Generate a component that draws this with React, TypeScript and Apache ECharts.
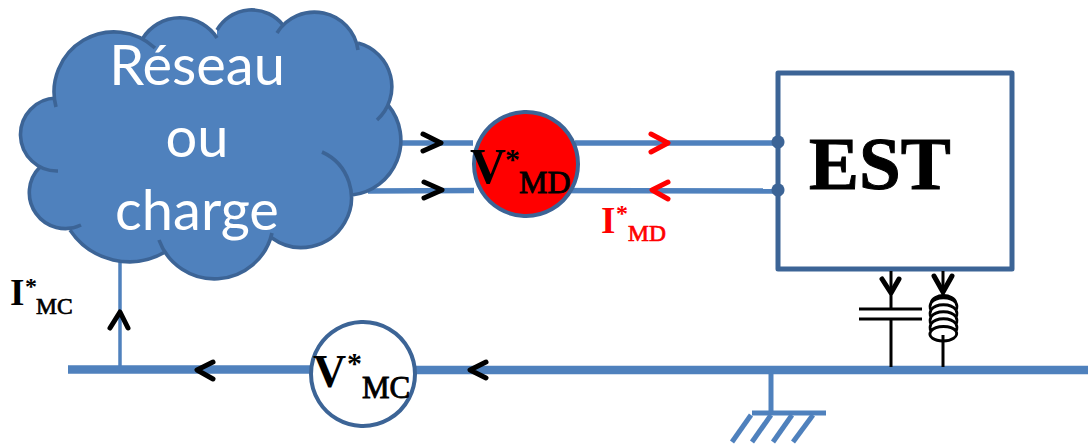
import React, { useEffect, useRef } from "react";
import * as echarts from "echarts";

const WIRE = "#4f81bd";
const EDGE = "#3c6496";
const RED = "#ff0000";
const BLACK = "#000000";
const SERIF = "'Liberation Serif', serif";

// cloud lobes: start x, start y, radius, large-arc flag, end x, end y
const cloudLobes = [
  [56, 107, 60, 0, 155, 48],
  [143, 38, 44, 0, 217, 38],
  [217, 30, 40, 0, 283, 25],
  [277, 33, 44, 0, 358, 50],
  [358, 43, 45, 0, 377, 120],
  [388, 105, 55, 0, 352, 195],
  [322, 152, 50, 1, 272, 238],
  [272, 233, 59, 0, 159, 240],
  [165, 252, 71, 0, 70, 230],
  [81, 225, 36, 0, 40, 167],
  [58, 171, 36.5, 0, 56, 98],
];
const lobeArc = (l: number[]) => `A ${l[2]} ${l[2]} 0 ${l[3]} 1 ${l[4]} ${l[5]}`;
const cloudFillPath =
  cloudLobes.map((l, i) => `${i ? "L" : "M"} ${l[0]} ${l[1]} ${lobeArc(l)}`).join(" ") + " Z";
const cloudLinePath = cloudLobes.map((l) => `M ${l[0]} ${l[1]} ${lobeArc(l)}`).join(" ");

const coilTurns = [303, 310, 317, 324];
const coilPath =
  "M 931 303 C 933 293 954 293 956 303 " +
  coilTurns.map((y) => `M 931 ${y} C 936 ${y - 7} 951 ${y - 7} 956 ${y} Q 958 ${y + 3.5} 956 ${y + 7} M 931 ${y} Q 929 ${y + 3.5} 931 ${y + 7}`).join(" ") +
  " M 931 331 C 927 337 935 341 943 341 C 951 341 959 337 956 331 C 951 325 936 325 931 331";

echarts.graphic.registerShape("cloudFill", echarts.graphic.extendPath(cloudFillPath, {}) as any);
echarts.graphic.registerShape("cloudLine", echarts.graphic.extendPath(cloudLinePath, {}) as any);
echarts.graphic.registerShape("coil", echarts.graphic.extendPath(coilPath, {}) as any);

// wires: x1, y1, x2, y2, width
const wires = [
  [400, 143, 473, 143, 5.5],
  [368, 191, 474, 190.5, 5.5],
  [575, 143, 778, 143, 5.5],
  [524, 190.5, 778, 191, 5.5],
  [120, 262, 120, 370, 3.5],
  [68, 369.5, 312, 369.5, 8.5],
  [415, 370, 1088, 370, 8.5],
  [771, 370, 771, 412, 5],
  [752, 413, 826, 413, 5],
  [751, 415, 732, 442, 5],
  [771, 415, 752, 442, 5],
  [792, 415, 773, 442, 5],
  [813, 415, 793, 442, 5],
];
// black component lines
const leads = [
  [891, 271, 891, 308, 3],
  [859, 309, 922, 309, 3],
  [859, 319, 922, 319, 3],
  [891, 319, 891, 367, 3],
  [943, 271, 943, 295, 3],
  [943, 335, 943, 367, 3],
];
const blackArrows = [
  [[423, 134], [441, 143], [423, 151]],
  [[424, 182], [442, 190], [424, 198]],
  [[110, 328], [120, 312], [128, 328]],
  [[213, 362], [197, 370], [213, 379]],
  [[486, 362], [470, 370], [486, 378]],
  [[882, 279], [891, 293], [899, 279]],
  [[934, 276], [943, 292], [952, 276]],
];
const redArrows = [
  [[651, 134], [668, 143], [651, 152]],
  [[668, 182], [652, 190], [668, 199]],
];
const cloudWords = [
  ["Réseau", 85],
  ["ou", 157],
  ["charge", 230],
] as const;
// text, x, baseline, size, colour, weight, outline
const mathLabels = [
  ["V", 470, 183, 50, BLACK, "bold", 0],
  ["*", 505, 169, 30, BLACK, "bold", 0],
  ["MD", 519, 193, 32, BLACK, "normal", 0.9],
  ["I", 601, 233, 37, RED, "bold", 0],
  ["*", 616, 221.5, 24, RED, "bold", 0],
  ["MD", 628, 241, 23.5, RED, "normal", 0.7],
  ["I", 10, 305, 37, BLACK, "bold", 0],
  ["*", 25, 294.5, 24, BLACK, "bold", 0],
  ["MC", 36, 314, 23.5, BLACK, "normal", 0.7],
  ["V", 313, 387, 46, BLACK, "bold", 0],
  ["*", 347, 373, 30, BLACK, "bold", 0],
  ["MC", 362, 398, 31, BLACK, "normal", 0.9],
  ["EST", 809, 189, 75, BLACK, "bold", 1],
] as const;

const line = (w: number[], color: string) => ({
  type: "line",
  shape: { x1: w[0], y1: w[1], x2: w[2], y2: w[3] },
  style: { stroke: color, lineWidth: w[4] },
});
const chevron = (pts: number[][], color: string) => ({
  type: "polyline",
  shape: { points: pts },
  style: { stroke: color, lineWidth: 5, fill: "none", lineCap: "round", lineJoin: "round" },
});
const serifText = (l: readonly [string, number, number, number, string, string, number]) => ({
  type: "text",
  x: l[1],
  y: l[2] - 0.3375 * l[3],
  style: {
    text: l[0],
    fill: l[4],
    font: `${l[5]} ${l[3]}px ${SERIF}`,
    align: "left",
    verticalAlign: "middle",
    ...(l[6] ? { stroke: l[4], lineWidth: l[6] } : {}),
  },
});

export default function App() {
  const ref = useRef<HTMLDivElement>(null);
  useEffect(() => {
    const chart = echarts.init(ref.current!, undefined, { renderer: "svg" });
    chart.setOption({
      animation: false,
      backgroundColor: "#ffffff",
      graphic: {
        elements: [
          ...wires.map((w) => line(w, WIRE)),
          { type: "cloudFill", style: { fill: WIRE, stroke: "none" } },
          { type: "cloudLine", style: { fill: "none", stroke: EDGE, lineWidth: 3.6 } },
          ...cloudWords.map(([t, b]) => ({
            type: "text",
            x: 197,
            y: b - 0.387 * 56,
            style: {
              text: t,
              fill: "#ffffff",
              font: "56px Lato, sans-serif",
              align: "center",
              verticalAlign: "middle",
            },
          })),
          {
            type: "rect",
            shape: { x: 778, y: 73, width: 234, height: 196 },
            style: { fill: "#ffffff", stroke: EDGE, lineWidth: 5, lineJoin: "round" },
          },
          { type: "circle", shape: { cx: 778, cy: 142, r: 6.5 }, style: { fill: EDGE } },
          { type: "circle", shape: { cx: 778, cy: 190, r: 6.5 }, style: { fill: EDGE } },
          {
            type: "circle",
            shape: { cx: 526, cy: 164, r: 52 },
            style: { fill: RED, stroke: EDGE, lineWidth: 4 },
          },
          {
            type: "circle",
            shape: { cx: 363, cy: 374, r: 52 },
            style: { fill: "#ffffff", stroke: EDGE, lineWidth: 4 },
          },
          ...leads.map((w) => line(w, BLACK)),
          { type: "coil", style: { fill: "none", stroke: BLACK, lineWidth: 2.8 } },
          ...blackArrows.map((p) => chevron(p, BLACK)),
          ...redArrows.map((p) => chevron(p, RED)),
          ...mathLabels.map(serifText),
        ],
      },
    });
    return () => chart.dispose();
  }, []);
  return (
    <div
      ref={ref}
      style={{ position: "absolute", left: 0, top: 0, width: 1088, height: 444 }}
    />
  );
}
